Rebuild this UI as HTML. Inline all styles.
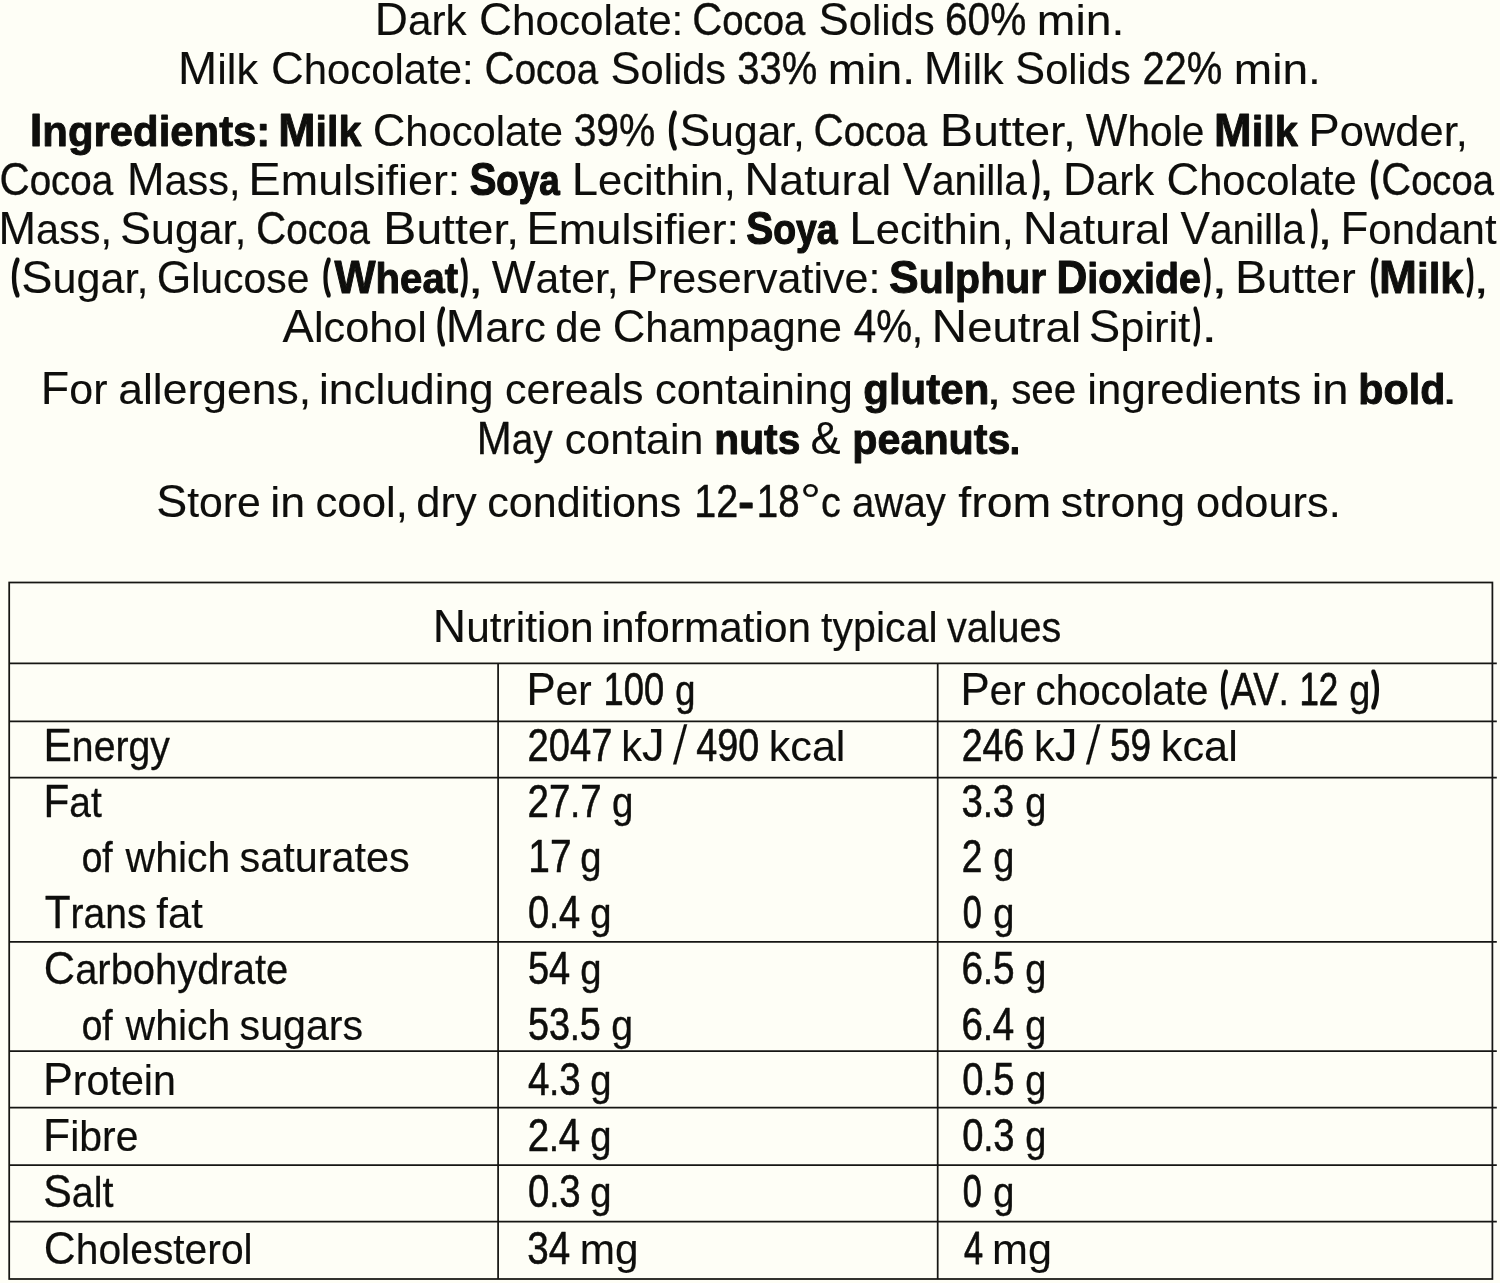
<!DOCTYPE html>
<html lang="en"><head><meta charset="utf-8"><title>Ingredients and nutrition information</title>
<style>
html,body{margin:0;padding:0;background:#fefef6;}
body{width:1500px;height:1283px;overflow:hidden;position:relative;}
svg{position:absolute;left:0;top:0;display:block;}
text{font-family:"Liberation Sans",Arial,Helvetica,sans-serif;font-size:43.2px;fill:#0e0e0c;stroke:#0e0e0c;stroke-width:0.12px;stroke-linejoin:round;white-space:pre;}
text .u{font-size:46.9px;}
text.b{font-weight:bold;}
.rule{stroke:#161613;stroke-width:1.75;fill:none;stroke-linecap:butt;}
</style></head><body>
<svg width="1500" height="1283" viewBox="0 0 1500 1283">
<rect width="1500" height="1283" fill="#fefef6"/>

<g class="rule">
<rect x="9.2" y="582.5" width="1483.20" height="696.50"/>
<line x1="9.2" y1="663.3" x2="1496.8" y2="663.3"/>
<line x1="9.2" y1="721.3" x2="1496.8" y2="721.3"/>
<line x1="9.2" y1="777.6" x2="1496.8" y2="777.6"/>
<line x1="9.2" y1="941.8" x2="1496.8" y2="941.8"/>
<line x1="9.2" y1="1051" x2="1496.8" y2="1051"/>
<line x1="9.2" y1="1107.6" x2="1496.8" y2="1107.6"/>
<line x1="9.2" y1="1165" x2="1496.8" y2="1165"/>
<line x1="9.2" y1="1221.7" x2="1496.8" y2="1221.7"/>
<line x1="498.1" y1="663.3" x2="498.1" y2="1279"/>
<line x1="937.7" y1="663.3" x2="937.7" y2="1279"/>
</g>
<g>
<text transform="translate(374.79 35.20) scale(0.9787 1)"><tspan class="u">D</tspan>ark</text>
<text transform="translate(478.91 35.20) scale(0.9775 1)"><tspan class="u">C</tspan>hocolate:</text>
<text style="stroke-width:0.37px" transform="translate(692.25 35.20) scale(0.8870 1)"><tspan class="u">C</tspan>ocoa</text>
<text style="stroke-width:0.12px" transform="translate(818.38 35.20) scale(0.9693 1)"><tspan class="u">S</tspan>olids</text>
<text style="stroke-width:0.44px" transform="translate(945.03 35.20) scale(0.8649 1)"><tspan class="u">60%</tspan></text>
<text transform="translate(1036.85 35.20) scale(1.0721 1)">min.</text>
</g>
<g>
<text transform="translate(178.00 83.50) scale(1.0024 1)"><tspan class="u">M</tspan>ilk</text>
<text style="stroke-width:0.12px" transform="translate(270.93 83.50) scale(0.9696 1)"><tspan class="u">C</tspan>hocolate:</text>
<text style="stroke-width:0.36px" transform="translate(484.53 83.50) scale(0.8911 1)"><tspan class="u">C</tspan>ocoa</text>
<text style="stroke-width:0.14px" transform="translate(610.50 83.50) scale(0.9623 1)"><tspan class="u">S</tspan>olids</text>
<text style="stroke-width:0.47px" transform="translate(737.21 83.50) scale(0.8519 1)"><tspan class="u">33%</tspan></text>
<text transform="translate(827.86 83.50) scale(1.0694 1)">min.</text>
<text transform="translate(923.70 83.50) scale(1.0024 1)"><tspan class="u">M</tspan>ilk</text>
<text style="stroke-width:0.14px" transform="translate(1015.10 83.50) scale(0.9631 1)"><tspan class="u">S</tspan>olids</text>
<text style="stroke-width:0.47px" transform="translate(1142.38 83.50) scale(0.8522 1)"><tspan class="u">22%</tspan></text>
<text transform="translate(1233.87 83.50) scale(1.0654 1)">min.</text>
</g>
<g>
<text class="b" style="stroke-width:0.90px" transform="translate(29.69 146.40) scale(0.9696 1)"><tspan class="u">I</tspan>ngredients:</text>
<text class="b" style="stroke-width:0.95px" transform="translate(278.36 146.40) scale(0.9528 1)"><tspan class="u">M</tspan>ilk</text>
<text style="stroke-width:0.13px" transform="translate(372.65 146.40) scale(0.9659 1)"><tspan class="u">C</tspan>hocolate</text>
<text style="stroke-width:0.42px" transform="translate(573.66 146.40) scale(0.8700 1)"><tspan class="u">39%</tspan></text>
<text style="stroke-width:6.00px" transform="translate(668.91 140.02) scale(0.4580 0.8649)">(</text>
<text transform="translate(679.54 146.40) scale(0.9846 1)"><tspan class="u">S</tspan>ugar,</text>
<text style="stroke-width:0.35px" transform="translate(813.43 146.40) scale(0.8927 1)"><tspan class="u">C</tspan>ocoa</text>
<text transform="translate(939.86 146.40) scale(1.0670 1)"><tspan class="u">B</tspan>utter,</text>
<text style="stroke-width:0.21px" transform="translate(1085.86 146.40) scale(0.9406 1)"><tspan class="u">W</tspan>hole</text>
<text class="b" style="stroke-width:0.92px" transform="translate(1214.01 146.40) scale(0.9638 1)"><tspan class="u">M</tspan>ilk</text>
<text transform="translate(1308.29 146.40) scale(1.0062 1)"><tspan class="u">P</tspan>owder,</text>
</g>
<g>
<text style="stroke-width:0.35px" transform="translate(-0.57 195.00) scale(0.8919 1)"><tspan class="u">C</tspan>ocoa</text>
<text style="stroke-width:0.15px" transform="translate(126.97 195.00) scale(0.9598 1)"><tspan class="u">M</tspan>ass,</text>
<text transform="translate(248.37 195.00) scale(1.0389 1)"><tspan class="u">E</tspan>mulsifier:</text>
<text class="b" style="stroke-width:1.25px" transform="translate(469.66 195.00) scale(0.8520 1)"><tspan class="u">S</tspan>oya</text>
<text transform="translate(571.68 195.00) scale(1.0079 1)"><tspan class="u">L</tspan>ecithin,</text>
<text transform="translate(744.18 195.00) scale(1.0364 1)"><tspan class="u">N</tspan>atural</text>
<text style="stroke-width:0.21px" transform="translate(902.66 195.00) scale(0.9394 1)"><tspan class="u">V</tspan>anilla</text>
<text style="stroke-width:6.00px" transform="translate(1033.51 188.62) scale(0.4058 0.8649)">)</text>
<text transform="translate(1038.14 195.00) scale(1.3592 1)">,</text>
<text transform="translate(1063.12 195.00) scale(0.9709 1)"><tspan class="u">D</tspan>ark</text>
<text style="stroke-width:0.13px" transform="translate(1166.45 195.00) scale(0.9653 1)"><tspan class="u">C</tspan>hocolate</text>
<text style="stroke-width:6.00px" transform="translate(1370.91 188.62) scale(0.4464 0.8649)">(</text>
<text style="stroke-width:0.38px" transform="translate(1381.26 195.00) scale(0.8829 1)"><tspan class="u">C</tspan>ocoa</text>
</g>
<g>
<text style="stroke-width:0.15px" transform="translate(-1.53 244.40) scale(0.9598 1)"><tspan class="u">M</tspan>ass,</text>
<text transform="translate(120.03 244.40) scale(0.9920 1)"><tspan class="u">S</tspan>ugar,</text>
<text style="stroke-width:0.35px" transform="translate(255.92 244.40) scale(0.8935 1)"><tspan class="u">C</tspan>ocoa</text>
<text transform="translate(383.06 244.40) scale(1.0678 1)"><tspan class="u">B</tspan>utter,</text>
<text transform="translate(526.15 244.40) scale(1.0439 1)"><tspan class="u">E</tspan>mulsifier:</text>
<text class="b" style="stroke-width:1.22px" transform="translate(746.23 244.40) scale(0.8636 1)"><tspan class="u">S</tspan>oya</text>
<text transform="translate(849.27 244.40) scale(1.0105 1)"><tspan class="u">L</tspan>ecithin,</text>
<text transform="translate(1022.77 244.40) scale(1.0372 1)"><tspan class="u">N</tspan>atural</text>
<text style="stroke-width:0.21px" transform="translate(1180.46 244.40) scale(0.9409 1)"><tspan class="u">V</tspan>anilla</text>
<text style="stroke-width:6.00px" transform="translate(1311.94 238.02) scale(0.3768 0.8649)">)</text>
<text transform="translate(1316.84 244.40) scale(1.3592 1)">,</text>
<text transform="translate(1340.52 244.40) scale(0.9709 1)"><tspan class="u">F</tspan>ondant</text>
</g>
<g>
<text style="stroke-width:6.00px" transform="translate(12.11 286.82) scale(0.4406 0.8649)">(</text>
<text transform="translate(21.31 293.20) scale(0.9978 1)"><tspan class="u">S</tspan>ugar,</text>
<text style="stroke-width:0.19px" transform="translate(156.76 293.20) scale(0.9464 1)"><tspan class="u">G</tspan>lucose</text>
<text style="stroke-width:6.00px" transform="translate(323.41 286.82) scale(0.4232 0.8649)">(</text>
<text class="b" style="stroke-width:1.02px" transform="translate(334.48 293.20) scale(0.9287 1)"><tspan class="u">W</tspan>heat</text>
<text style="stroke-width:6.00px" transform="translate(461.81 286.82) scale(0.4058 0.8649)">)</text>
<text transform="translate(467.44 293.20) scale(1.3592 1)">,</text>
<text transform="translate(491.81 293.20) scale(0.9890 1)"><tspan class="u">W</tspan>ater,</text>
<text transform="translate(626.82 293.20) scale(0.9965 1)"><tspan class="u">P</tspan>reservative:</text>
<text class="b" style="stroke-width:0.96px" transform="translate(889.03 293.20) scale(0.9485 1)"><tspan class="u">S</tspan>ulphur</text>
<text class="b" style="stroke-width:1.08px" transform="translate(1056.54 293.20) scale(0.9092 1)"><tspan class="u">D</tspan>ioxide</text>
<text style="stroke-width:6.00px" transform="translate(1204.96 286.82) scale(0.3826 0.8649)">)</text>
<text transform="translate(1211.05 293.20) scale(1.3835 1)">,</text>
<text transform="translate(1234.91 293.20) scale(1.0258 1)"><tspan class="u">B</tspan>utter</text>
<text style="stroke-width:6.00px" transform="translate(1370.91 286.82) scale(0.4348 0.8649)">(</text>
<text class="b" style="stroke-width:0.90px" transform="translate(1378.98 293.20) scale(0.9722 1)"><tspan class="u">M</tspan>ilk</text>
<text style="stroke-width:6.00px" transform="translate(1467.66 286.82) scale(0.3826 0.8649)">)</text>
<text transform="translate(1473.04 293.20) scale(1.3592 1)">,</text>
</g>
<g>
<text transform="translate(282.61 342.20) scale(1.0013 1)"><tspan class="u">A</tspan>lcohol</text>
<text style="stroke-width:6.00px" transform="translate(437.51 335.82) scale(0.4406 0.8649)">(</text>
<text transform="translate(445.78 342.20) scale(1.0093 1)"><tspan class="u">M</tspan>arc</text>
<text style="stroke-width:0.12px" transform="translate(555.36 342.20) scale(0.9691 1)">de</text>
<text style="stroke-width:0.14px" transform="translate(612.66 342.20) scale(0.9630 1)"><tspan class="u">C</tspan>hampagne</text>
<text style="stroke-width:0.45px" transform="translate(853.83 342.20) scale(0.8616 1)"><tspan class="u">4%</tspan>,</text>
<text transform="translate(931.62 342.20) scale(1.0527 1)"><tspan class="u">N</tspan>eutral</text>
<text transform="translate(1088.80 342.20) scale(1.0064 1)"><tspan class="u">S</tspan>pirit</text>
<text style="stroke-width:6.00px" transform="translate(1194.44 335.82) scale(0.3768 0.8649)">)</text>
<text transform="translate(1201.24 342.20) scale(1.3350 1)">.</text>
</g>
<g>
<text transform="translate(40.83 404.30) scale(0.9933 1)"><tspan class="u">F</tspan>or</text>
<text transform="translate(118.26 404.30) scale(1.0296 1)">allergens,</text>
<text transform="translate(318.99 404.30) scale(1.0251 1)">including</text>
<text transform="translate(505.02 404.30) scale(0.9940 1)">cereals</text>
<text transform="translate(655.00 404.30) scale(1.0048 1)">containing</text>
<text class="b" style="stroke-width:0.90px" transform="translate(863.23 404.30) scale(0.9734 1)">gluten</text>
<text transform="translate(985.64 404.30) scale(1.3592 1)">,</text>
<text style="stroke-width:0.22px" transform="translate(1011.14 404.30) scale(0.9352 1)">see</text>
<text transform="translate(1087.32 404.30) scale(1.0137 1)">ingredients</text>
<text transform="translate(1311.78 404.30) scale(1.0944 1)">in</text>
<text class="b" style="stroke-width:0.95px" transform="translate(1358.33 404.30) scale(0.9543 1)">bold</text>
<text transform="translate(1441.44 404.30) scale(1.3592 1)">.</text>
</g>
<g>
<text style="stroke-width:0.35px" transform="translate(476.80 454.10) scale(0.8940 1)"><tspan class="u">M</tspan>ay</text>
<text transform="translate(564.82 454.10) scale(0.9958 1)">contain</text>
<text class="b" style="stroke-width:0.98px" transform="translate(714.37 454.10) scale(0.9431 1)">nuts</text>
<text style="stroke-width:0.14px" transform="translate(810.39 454.10) scale(0.9622 1)"><tspan class="u">&amp;</tspan></text>
<text class="b" style="stroke-width:0.94px" transform="translate(852.32 454.10) scale(0.9553 1)">peanuts</text>
<text class="b" style="stroke-width:1.24px" transform="translate(1009.86 454.10) scale(0.8569 1)">.</text>
</g>
<g>
<text transform="translate(156.13 516.50) scale(0.9909 1)"><tspan class="u">S</tspan>tore</text>
<text transform="translate(270.25 516.50) scale(1.0370 1)">in</text>
<text transform="translate(315.49 516.50) scale(1.0114 1)">cool,</text>
<text transform="translate(416.30 516.50) scale(1.0065 1)">dry</text>
<text transform="translate(487.31 516.50) scale(0.9981 1)">conditions</text>
<text style="stroke-width:0.51px" transform="translate(694.27 516.50) scale(0.8405 1)"><tspan class="u">12</tspan></text>
<text class="b" style="stroke-width:0.90px" transform="translate(738.27 516.50) scale(1.1008 1)">-</text>
<text style="stroke-width:0.58px" transform="translate(756.87 516.50) scale(0.8178 1)"><tspan class="u">18</tspan></text>
<text transform="translate(799.98 516.50) scale(1.1219 1)"><tspan class="u">°</tspan></text>
<text style="stroke-width:0.27px" transform="translate(821.01 516.50) scale(0.9201 1)">c</text>
<text style="stroke-width:0.24px" transform="translate(852.08 516.50) scale(0.9311 1)">away</text>
<text transform="translate(958.33 516.50) scale(1.0768 1)">from</text>
<text transform="translate(1060.77 516.50) scale(1.0351 1)">strong</text>
<text transform="translate(1196.10 516.50) scale(1.0038 1)">odours.</text>
</g>
<g>
<text transform="translate(432.87 642.20) scale(0.9833 1)"><tspan class="u">N</tspan>utrition</text>
<text transform="translate(601.62 642.20) scale(0.9804 1)">information</text>
<text style="stroke-width:0.17px" transform="translate(821.07 642.20) scale(0.9527 1)">typical</text>
<text style="stroke-width:0.29px" transform="translate(947.10 642.20) scale(0.9150 1)">values</text>
</g>
<g>
<text style="stroke-width:0.24px" transform="translate(526.62 705.00) scale(0.9315 1)"><tspan class="u">P</tspan>er</text>
<text style="stroke-width:0.71px" transform="translate(603.57 705.00) scale(0.7733 1)"><tspan class="u">100</tspan></text>
<text style="stroke-width:0.51px" transform="translate(675.25 705.00) scale(0.8395 1)">g</text>
<text style="stroke-width:0.24px" transform="translate(960.62 705.00) scale(0.9315 1)"><tspan class="u">P</tspan>er</text>
<text style="stroke-width:0.22px" transform="translate(1035.47 705.00) scale(0.9351 1)">chocolate</text>
<text style="stroke-width:6.00px" transform="translate(1220.90 698.62) scale(0.4058 0.8649)">(</text>
<text style="stroke-width:0.58px" transform="translate(1230.53 705.00) scale(0.8169 1)"><tspan class="u">AV</tspan>.</text>
<text style="stroke-width:0.80px" transform="translate(1299.39 705.00) scale(0.7439 1)"><tspan class="u">12</tspan></text>
<text style="stroke-width:0.39px" transform="translate(1349.13 705.00) scale(0.8798 1)">g</text>
<text style="stroke-width:6.00px" transform="translate(1372.62 698.62) scale(0.4464 0.8649)">)</text>
</g>
<g>
<text style="stroke-width:0.31px" transform="translate(43.43 761.00) scale(0.9079 1)"><tspan class="u">E</tspan>nergy</text>
<text style="stroke-width:0.59px" transform="translate(527.61 761.00) scale(0.8132 1)"><tspan class="u">2047</tspan></text>
<text style="stroke-width:0.15px" transform="translate(621.29 761.00) scale(0.9599 1)">k<tspan class="u">J</tspan></text>
<text transform="translate(673.11 764.29) skewX(-3.955) scale(0.9571 1.2708)">/</text>
<text style="stroke-width:0.61px" transform="translate(696.14 761.00) scale(0.8054 1)"><tspan class="u">490</tspan></text>
<text transform="translate(768.76 761.00) scale(0.9983 1)">kcal</text>
<text style="stroke-width:0.63px" transform="translate(961.75 761.00) scale(0.7999 1)"><tspan class="u">246</tspan></text>
<text style="stroke-width:0.13px" transform="translate(1033.97 761.00) scale(0.9655 1)">k<tspan class="u">J</tspan></text>
<text transform="translate(1086.11 764.29) skewX(-3.955) scale(0.9653 1.2708)">/</text>
<text style="stroke-width:0.67px" transform="translate(1109.89 761.00) scale(0.7869 1)"><tspan class="u">59</tspan></text>
<text transform="translate(1160.86 761.00) scale(1.0011 1)">kcal</text>
</g>
<g>
<text style="stroke-width:0.33px" transform="translate(43.47 816.70) scale(0.9009 1)"><tspan class="u">F</tspan>at</text>
<text style="stroke-width:0.57px" transform="translate(527.59 816.70) scale(0.8202 1)"><tspan class="u">27</tspan>.<tspan class="u">7</tspan></text>
<text style="stroke-width:0.36px" transform="translate(611.90 816.70) scale(0.8914 1)">g</text>
<text style="stroke-width:0.57px" transform="translate(961.60 816.70) scale(0.8187 1)"><tspan class="u">3</tspan>.<tspan class="u">3</tspan></text>
<text style="stroke-width:0.39px" transform="translate(1025.13 816.70) scale(0.8798 1)">g</text>
</g>
<g>
<text style="stroke-width:0.45px" transform="translate(81.69 872.20) scale(0.8587 1)">of</text>
<text style="stroke-width:0.19px" transform="translate(125.59 872.20) scale(0.9481 1)">which</text>
<text style="stroke-width:0.16px" transform="translate(239.58 872.20) scale(0.9582 1)">saturates</text>
<text style="stroke-width:0.54px" transform="translate(528.32 872.20) scale(0.8292 1)"><tspan class="u">17</tspan></text>
<text style="stroke-width:0.37px" transform="translate(580.32 872.20) scale(0.8856 1)">g</text>
<text style="stroke-width:0.66px" transform="translate(961.78 872.20) scale(0.7897 1)"><tspan class="u">2</tspan></text>
<text style="stroke-width:0.39px" transform="translate(993.13 872.20) scale(0.8798 1)">g</text>
</g>
<g>
<text style="stroke-width:0.32px" transform="translate(44.74 928.00) scale(0.9019 1)"><tspan class="u">T</tspan>rans</text>
<text style="stroke-width:0.12px" transform="translate(156.28 928.00) scale(0.9689 1)">fat</text>
<text style="stroke-width:0.59px" transform="translate(528.02 928.00) scale(0.8118 1)"><tspan class="u">0</tspan>.<tspan class="u">4</tspan></text>
<text style="stroke-width:0.37px" transform="translate(590.32 928.00) scale(0.8856 1)">g</text>
<text style="stroke-width:0.85px" transform="translate(962.83 928.00) scale(0.7282 1)"><tspan class="u">0</tspan></text>
<text style="stroke-width:0.39px" transform="translate(993.13 928.00) scale(0.8798 1)">g</text>
</g>
<g>
<text style="stroke-width:0.26px" transform="translate(43.81 983.80) scale(0.9249 1)"><tspan class="u">C</tspan>arbohydrate</text>
<text style="stroke-width:0.60px" transform="translate(527.92 983.80) scale(0.8106 1)"><tspan class="u">54</tspan></text>
<text style="stroke-width:0.37px" transform="translate(580.32 983.80) scale(0.8856 1)">g</text>
<text style="stroke-width:0.54px" transform="translate(961.45 983.80) scale(0.8293 1)"><tspan class="u">6</tspan>.<tspan class="u">5</tspan></text>
<text style="stroke-width:0.39px" transform="translate(1025.13 983.80) scale(0.8798 1)">g</text>
</g>
<g>
<text style="stroke-width:0.45px" transform="translate(81.69 1039.50) scale(0.8587 1)">of</text>
<text style="stroke-width:0.19px" transform="translate(125.59 1039.50) scale(0.9481 1)">which</text>
<text style="stroke-width:0.17px" transform="translate(239.59 1039.50) scale(0.9534 1)">sugars</text>
<text style="stroke-width:0.61px" transform="translate(527.94 1039.50) scale(0.8059 1)"><tspan class="u">53</tspan>.<tspan class="u">5</tspan></text>
<text style="stroke-width:0.30px" transform="translate(611.25 1039.50) scale(0.9089 1)">g</text>
<text style="stroke-width:0.56px" transform="translate(961.48 1039.50) scale(0.8222 1)"><tspan class="u">6</tspan>.<tspan class="u">4</tspan></text>
<text style="stroke-width:0.39px" transform="translate(1025.13 1039.50) scale(0.8798 1)">g</text>
</g>
<g>
<text style="stroke-width:0.17px" transform="translate(43.00 1095.40) scale(0.9540 1)"><tspan class="u">P</tspan>rotein</text>
<text style="stroke-width:0.56px" transform="translate(527.91 1095.40) scale(0.8218 1)"><tspan class="u">4</tspan>.<tspan class="u">3</tspan></text>
<text style="stroke-width:0.37px" transform="translate(590.32 1095.40) scale(0.8856 1)">g</text>
<text style="stroke-width:0.58px" transform="translate(962.31 1095.40) scale(0.8153 1)"><tspan class="u">0</tspan>.<tspan class="u">5</tspan></text>
<text style="stroke-width:0.39px" transform="translate(1025.13 1095.40) scale(0.8798 1)">g</text>
</g>
<g>
<text style="stroke-width:0.19px" transform="translate(43.04 1151.00) scale(0.9476 1)"><tspan class="u">F</tspan>ibre</text>
<text style="stroke-width:0.57px" transform="translate(527.69 1151.00) scale(0.8187 1)"><tspan class="u">2</tspan>.<tspan class="u">4</tspan></text>
<text style="stroke-width:0.37px" transform="translate(590.32 1151.00) scale(0.8856 1)">g</text>
<text style="stroke-width:0.58px" transform="translate(962.31 1151.00) scale(0.8153 1)"><tspan class="u">0</tspan>.<tspan class="u">3</tspan></text>
<text style="stroke-width:0.39px" transform="translate(1025.13 1151.00) scale(0.8798 1)">g</text>
</g>
<g>
<text style="stroke-width:0.29px" transform="translate(43.28 1206.80) scale(0.9136 1)"><tspan class="u">S</tspan>alt</text>
<text style="stroke-width:0.57px" transform="translate(528.10 1206.80) scale(0.8187 1)"><tspan class="u">0</tspan>.<tspan class="u">3</tspan></text>
<text style="stroke-width:0.37px" transform="translate(590.32 1206.80) scale(0.8856 1)">g</text>
<text style="stroke-width:0.85px" transform="translate(962.83 1206.80) scale(0.7282 1)"><tspan class="u">0</tspan></text>
<text style="stroke-width:0.39px" transform="translate(993.13 1206.80) scale(0.8798 1)">g</text>
</g>
<g>
<text style="stroke-width:0.20px" transform="translate(43.73 1263.60) scale(0.9447 1)"><tspan class="u">C</tspan>holesterol</text>
<text style="stroke-width:0.56px" transform="translate(527.29 1263.60) scale(0.8232 1)"><tspan class="u">34</tspan></text>
<text transform="translate(579.82 1263.60) scale(0.9803 1)">mg</text>
<text style="stroke-width:0.83px" transform="translate(964.07 1263.60) scale(0.7322 1)"><tspan class="u">4</tspan></text>
<text transform="translate(992.06 1263.60) scale(0.9987 1)">mg</text>
</g>
</svg></body></html>
